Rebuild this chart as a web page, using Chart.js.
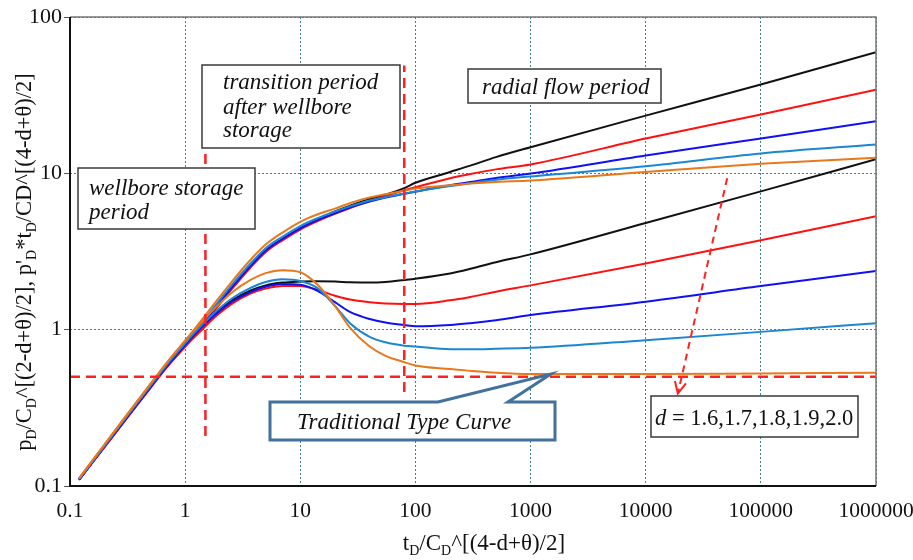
<!DOCTYPE html>
<html>
<head>
<meta charset="utf-8">
<script src="https://cdn.jsdelivr.net/npm/chart.js@4.4.0/dist/chart.umd.min.js"></script>
<style>
  html, body { margin: 0; padding: 0; background: #fff; }
</style>
</head>
<body>
<canvas id="myChart" width="913" height="560"></canvas>
<script>
// dimensionless time samples
const tD = [0.12, 0.2, 0.3, 0.5, 0.7, 1, 1.4, 1.9, 2.6, 3.7, 5, 7, 10, 14, 20, 27, 40, 55, 80, 100, 200, 300, 500, 1000, 10000, 100000, 1000000];

// pressure curves (upper family), one per d
const pOrange    = [0.112, 0.185, 0.275, 0.45, 0.62, 0.85, 1.16, 1.55, 2.07, 2.8, 3.5, 4.18, 4.9, 5.45, 5.95, 6.45, 7.0, 7.35, 7.75, 8.0, 8.4, 8.6, 8.8, 9.0, 10.2, 11.5, 12.6];
const pLightBlue = [0.111, 0.182, 0.27, 0.44, 0.605, 0.82, 1.11, 1.48, 1.97, 2.65, 3.32, 3.93, 4.6, 5.15, 5.7, 6.15, 6.7, 7.05, 7.42, 7.65, 8.3, 8.65, 9.1, 9.55, 11.1, 13.4, 15.3];
const pBlue      = [0.11, 0.18, 0.265, 0.43, 0.59, 0.8, 1.08, 1.43, 1.9, 2.55, 3.2, 3.8, 4.45, 5.0, 5.55, 6.05, 6.6, 7.0, 7.4, 7.63, 8.4, 8.8, 9.35, 9.96, 13.0, 16.7, 21.5];
const pRed       = [0.11, 0.178, 0.262, 0.425, 0.58, 0.78, 1.05, 1.39, 1.85, 2.5, 3.13, 3.73, 4.37, 4.93, 5.5, 6.0, 6.65, 7.15, 7.8, 8.15, 9.3, 9.9, 10.6, 11.4, 16.7, 23.8, 34.3];
const pBlack     = [0.11, 0.18, 0.265, 0.43, 0.59, 0.8, 1.08, 1.43, 1.9, 2.55, 3.2, 3.8, 4.45, 5.05, 5.7, 6.2, 6.85, 7.3, 8.05, 8.7, 10.2, 11.2, 12.7, 14.7, 23.4, 37, 59.6];

// pressure derivative curves (lower family)
const dOrange    = [0.112, 0.185, 0.275, 0.45, 0.62, 0.85, 1.12, 1.42, 1.75, 2.08, 2.3, 2.4, 2.33, 1.95, 1.42, 1.03, 0.78, 0.68, 0.62, 0.59, 0.56, 0.545, 0.53, 0.52, 0.52, 0.525, 0.53];
const dLightBlue = [0.111, 0.182, 0.27, 0.44, 0.605, 0.82, 1.07, 1.33, 1.6, 1.85, 2.02, 2.1, 2.05, 1.85, 1.42, 1.1, 0.9, 0.83, 0.79, 0.78, 0.75, 0.75, 0.755, 0.765, 0.857, 0.968, 1.10];
const dBlue      = [0.11, 0.18, 0.265, 0.43, 0.59, 0.8, 1.04, 1.28, 1.52, 1.74, 1.88, 1.96, 1.94, 1.78, 1.5, 1.3, 1.17, 1.11, 1.07, 1.05, 1.07, 1.1, 1.15, 1.24, 1.51, 1.9, 2.37];
const dRed       = [0.11, 0.178, 0.262, 0.425, 0.58, 0.78, 1.0, 1.24, 1.48, 1.7, 1.83, 1.9, 1.9, 1.8, 1.65, 1.56, 1.5, 1.47, 1.46, 1.46, 1.54, 1.62, 1.75, 1.92, 2.65, 3.73, 5.31];
const dBlack     = [0.11, 0.18, 0.265, 0.43, 0.59, 0.8, 1.05, 1.3, 1.55, 1.78, 1.92, 2.0, 2.03, 2.04, 2.03, 2.01, 2.0, 2.02, 2.08, 2.12, 2.29, 2.45, 2.7, 3.03, 4.81, 7.67, 12.3];

const dValues = ['1.6', '1.7', '1.8', '1.9', '2.0'];

// red dashed period markers
const periodT = [1.5, 80];
const periodLow = [0.209, 0.40];
const periodHigh = [14.5, 49];
const traditionalLevel = 0.5;
// dashed arrow across the d family, and the callout tip
const arrowFrom = [51000, 9.3];
const arrowTo = [19000, 0.39];
const calloutTip = [1500, 0.52];

const xTicks = [0.1, 1, 10, 100, 1000, 10000, 100000, 1000000];
const xTickLabels = ['0.1', '1', '10', '100', '1000', '10000', '100000', '1000000'];
const yTicks = [0.1, 1, 10, 100];
const yTickLabels = ['0.1', '1', '10', '100'];

const ORANGE = '#e8781c', LBLUE = '#1b86d2', BLUE = '#1010f5', RED = '#ff1010', BLACK = '#111111';
const DASH_RED = '#ff2020';
const SERIF = '"Liberation Serif", "Times New Roman", serif';

function pts(vals) { return tD.map((t, i) => ({ x: t, y: vals[i] })) }

function curve(vals, color) {
  return { data: pts(vals), borderColor: color, borderWidth: 2, pointRadius: 0,
           cubicInterpolationMode: 'monotone', fill: false };
}
function dashed(data) {
  return { data: data, borderColor: DASH_RED, borderWidth: 2.5, borderDash: [10, 6],
           pointRadius: 0, fill: false, tension: 0 };
}

const datasets = [
  dashed([{ x: 0.1, y: traditionalLevel }, { x: 1000000, y: traditionalLevel }]),
  dashed([{ x: periodT[0], y: periodLow[0] }, { x: periodT[0], y: periodHigh[0] }]),
  dashed([{ x: periodT[1], y: periodLow[1] }, { x: periodT[1], y: periodHigh[1] }]),
  curve(pOrange, ORANGE), curve(dOrange, ORANGE),
  curve(pLightBlue, LBLUE), curve(dLightBlue, LBLUE),
  curve(pBlue, BLUE), curve(dBlue, BLUE),
  curve(pRed, RED), curve(dRed, RED),
  curve(pBlack, BLACK), curve(dBlack, BLACK)
];

// draw text with subscript parts, centered on x
function richText(ctx, parts, x, y, size) {
  const main = size + 'px ' + SERIF;
  const sub = Math.round(size * 0.6) + 'px ' + SERIF;
  let w = 0;
  parts.forEach(p => { ctx.font = p[1] ? sub : main; w += ctx.measureText(p[0]).width; });
  let cx = x - w / 2;
  ctx.textAlign = 'left';
  ctx.textBaseline = 'alphabetic';
  parts.forEach(p => {
    ctx.font = p[1] ? sub : main;
    ctx.fillText(p[0], cx, y + (p[1] ? size * 0.2 : 0));
    cx += ctx.measureText(p[0]).width;
  });
}

function textBox(ctx, x, y, w, h, lines, tx, baselines) {
  ctx.save();
  ctx.fillStyle = '#ffffff';
  ctx.fillRect(x, y, w, h);
  ctx.strokeStyle = '#3a3a3a';
  ctx.lineWidth = 1.5;
  ctx.strokeRect(x, y, w, h);
  ctx.fillStyle = '#111';
  ctx.font = 'italic 23px ' + SERIF;
  ctx.textAlign = 'left';
  ctx.textBaseline = 'alphabetic';
  lines.forEach((l, i) => ctx.fillText(l, tx, baselines[i]));
  ctx.restore();
}

const decorPlugin = {
  id: 'decor',
  afterDatasetsDraw(chart) {
    const ctx = chart.ctx;
    const xs = chart.scales.x, ys = chart.scales.y;
    const a = chart.chartArea;

    // frame: dark left/bottom axes, grey top/right
    ctx.save();
    ctx.strokeStyle = '#777';
    ctx.lineWidth = 1.5;
    ctx.beginPath();
    ctx.moveTo(a.left, a.top); ctx.lineTo(a.right, a.top); ctx.lineTo(a.right, a.bottom);
    ctx.stroke();
    ctx.strokeStyle = '#111';
    ctx.lineWidth = 2;
    ctx.beginPath();
    ctx.moveTo(a.left, a.top); ctx.lineTo(a.left, a.bottom); ctx.lineTo(a.right, a.bottom);
    ctx.stroke();
    ctx.restore();

    // dashed arrow
    const x1 = xs.getPixelForValue(arrowFrom[0]), y1 = ys.getPixelForValue(arrowFrom[1]);
    const x2 = xs.getPixelForValue(arrowTo[0]), y2 = ys.getPixelForValue(arrowTo[1]);
    ctx.save();
    ctx.strokeStyle = DASH_RED;
    ctx.lineWidth = 2;
    ctx.setLineDash([7, 5]);
    ctx.beginPath(); ctx.moveTo(x1, y1); ctx.lineTo(x2, y2); ctx.stroke();
    ctx.setLineDash([]);
    const ang = Math.atan2(y2 - y1, x2 - x1);
    ctx.beginPath();
    ctx.moveTo(x2 - 13 * Math.cos(ang - 0.45), y2 - 13 * Math.sin(ang - 0.45));
    ctx.lineTo(x2, y2);
    ctx.lineTo(x2 - 13 * Math.cos(ang + 0.45), y2 - 13 * Math.sin(ang + 0.45));
    ctx.stroke();
    ctx.restore();

    // annotation boxes
    textBox(ctx, 202, 65, 198, 83, ['transition period', 'after wellbore', 'storage'], 223, [89, 114, 137]);
    textBox(ctx, 78, 168, 177, 61, ['wellbore storage', 'period'], 89, [195, 219]);
    textBox(ctx, 468, 69, 193, 34, ['radial flow period'], 482, [94]);

    // d values box
    ctx.save();
    ctx.fillStyle = '#fff';
    ctx.fillRect(651, 396, 207, 41);
    ctx.strokeStyle = '#3a3a3a'; ctx.lineWidth = 1.5;
    ctx.strokeRect(651, 396, 207, 41);
    ctx.fillStyle = '#111';
    ctx.textBaseline = 'alphabetic'; ctx.textAlign = 'left';
    ctx.font = 'italic 22.5px ' + SERIF;
    ctx.fillText('d', 655, 425);
    const dw = ctx.measureText('d').width;
    ctx.font = '22.5px ' + SERIF;
    ctx.fillText(' = ' + dValues.join(','), 655 + dw, 425);
    ctx.restore();

    // traditional type curve callout
    const tipX = xs.getPixelForValue(calloutTip[0]), tipY = ys.getPixelForValue(calloutTip[1]);
    ctx.save();
    ctx.beginPath();
    ctx.moveTo(270, 402); ctx.lineTo(438, 402); ctx.lineTo(tipX, tipY); ctx.lineTo(508, 402);
    ctx.lineTo(555, 402); ctx.lineTo(555, 440); ctx.lineTo(270, 440); ctx.closePath();
    ctx.fillStyle = '#fff'; ctx.fill();
    ctx.strokeStyle = '#41719c'; ctx.lineWidth = 3; ctx.lineJoin = 'miter';
    ctx.stroke();
    ctx.fillStyle = '#111';
    ctx.font = 'italic 23px ' + SERIF;
    ctx.textBaseline = 'alphabetic'; ctx.textAlign = 'left';
    ctx.fillText('Traditional Type Curve', 297, 429);
    ctx.restore();

    // axis titles with subscripts
    ctx.save();
    ctx.fillStyle = '#111';
    richText(ctx, [['t', 0], ['D', 1], ['/C', 0], ['D', 1], ['^[(4-d+θ)/2]', 0]], 484, 550, 23);
    ctx.translate(31, 262);
    ctx.rotate(-Math.PI / 2);
    richText(ctx, [['p', 0], ['D', 1], ['/C', 0], ['D', 1], ['^[(2-d+θ)/2], p\'', 0], ['D', 1],
                   ['*t', 0], ['D', 1], ['/CD^[(4-d+θ)/2]', 0]], 0, 0, 22.5);
    ctx.restore();
  }
};

const ctx = document.getElementById('myChart').getContext('2d');
const chart = new Chart(ctx, {
  type: 'line',
  data: { datasets: datasets },
  plugins: [decorPlugin],
  options: {
    responsive: false,
    animation: false,
    layout: { padding: { top: 17, right: 37, left: 0, bottom: 0 } },
    plugins: { legend: { display: false }, tooltip: { enabled: false } },
    scales: {
      x: {
        type: 'logarithmic', min: 0.1, max: 1000000,
        afterBuildTicks: s => { s.ticks = xTicks.map(v => ({ value: v })); },
        afterFit: s => { s.height = 74; s.paddingLeft = 0; s.paddingRight = 0; },
        ticks: { callback: (v, i) => xTickLabels[i], font: { family: SERIF, size: 21.5 },
                 color: '#111', maxRotation: 0, autoSkip: false, padding: 12 },
        grid: { color: '#3f7f93', lineWidth: 1, drawTicks: false },
        border: { display: false, dash: [2, 2] }
      },
      y: {
        type: 'logarithmic', min: 0.1, max: 100,
        afterBuildTicks: s => { s.ticks = yTicks.map(v => ({ value: v })); },
        afterFit: s => { s.width = 70; s.paddingTop = 0; s.paddingBottom = 0; },
        ticks: { callback: (v, i) => yTickLabels[i], font: { family: SERIF, size: 22 },
                 color: '#111', padding: 2 },
        grid: { color: '#3f7f93', lineWidth: 1, drawTicks: true, tickLength: 6,
                tickColor: '#555', tickBorderDash: [] },
        border: { display: false, dash: [2, 2] }
      }
    }
  }
});
</script>
</body>
</html>
